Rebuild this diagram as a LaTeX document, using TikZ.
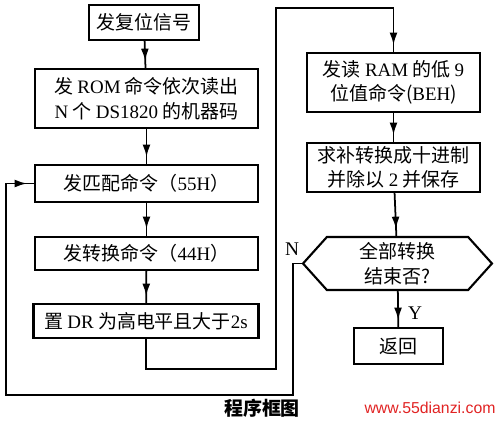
\documentclass[tikz,border=0pt]{standalone}
\usepackage{fontspec}
\setmainfont{Liberation Serif}
\newfontfamily\cjk{Noto Sans CJK SC}
\newfontfamily\wmfont{Liberation Sans}
\usetikzlibrary{arrows.meta,shapes.symbols,decorations.markings}
\definecolor{wmred}{RGB}{225,35,35}
\newcommand{\latn}[1]{{\rmfamily #1}}

\tikzset{
  procbox/.style={draw, line width=1.2pt, align=center, inner sep=0pt,
    font=\cjk\fontsize{10.8}{14}\selectfont},
  decide/.style={procbox, shape=signal, signal to=west and east,
    signal pointer angle=96},
  flow/.style={line width=1pt, postaction={decorate},
    decoration={markings, mark=at position -4pt with {\arrow{Latex[length=7pt,width=4.5pt]}}}},
  flowlabel/.style={font=\rmfamily\fontsize{11}{13}\selectfont}
}

\begin{document}
\begin{tikzpicture}[x=0.02cm, y=-0.02cm]
  \useasboundingbox (0,0) rectangle (499,420);
  % left column
  \node[procbox, minimum width=2.2cm, minimum height=0.7cm] (reset) at (144,22.5) {发复位信号};
  \node[procbox, minimum width=4.46cm, minimum height=1.18cm] (rom) at (146.5,98.5) {发 \latn{ROM} 命令依次读出\\\latn{N} 个 \latn{DS1820} 的机器码};
  \node[procbox, minimum width=4.46cm, minimum height=0.74cm] (match) at (146.5,183.5) {发匹配命令（\latn{55H}）};
  \node[procbox, minimum width=4.46cm, minimum height=0.66cm] (conv) at (146.5,253.5) {发转换命令（\latn{44H}）};
  \node[procbox, minimum width=4.5cm, minimum height=0.68cm] (dr) at (146,321) {置 \latn{DR} 为高电平且大于\latn{2s}};
  % right column
  \node[procbox, minimum width=3.46cm, minimum height=1.18cm] (read) at (393.5,82.5) {发读 \latn{RAM} 的低 \latn{9}\\位值命令(\latn{BEH})};
  \node[procbox, minimum width=3.46cm, minimum height=0.98cm] (calc) at (393.5,167.5) {求补转换成十进制\\并除以 \latn{2} 并保存};
  \node[decide, minimum width=3.78cm, minimum height=1.06cm] (done) at (397.5,263.5) {全部转换\\结束否?};
  \node[procbox, minimum width=1.78cm, minimum height=0.72cm] (ret) at (398.5,346) {返回};

  \draw[flow] (reset) -- (rom);
  \draw[flow] (rom) -- (match);
  \draw[flow] (match) -- (conv);
  \draw[flow] (conv) -- (dr);
  \draw[flow] (dr.south) |- (276,369) -- (276,8) -| (read.north);
  \draw[flow] (read) -- (calc);
  \draw[flow] (calc) -- (done);
  \draw[flow] (done) -- (ret);
  \draw[flow] (done.west) -| (293,395) -- (6,395) |- (match.west);

  \node[flowlabel] (nlab) at (292,249) {N};
  \node[flowlabel] (ylab) at (415,313) {Y};

  \node[font=\cjk\bfseries\fontsize{10.8}{13}\selectfont] (title) at (262,408) {程序框图};
  \node[font=\wmfont\fontsize{9}{11}\selectfont, text=wmred] (mark) at (430,408) {www.55dianzi.com};
\end{tikzpicture}
\end{document}
